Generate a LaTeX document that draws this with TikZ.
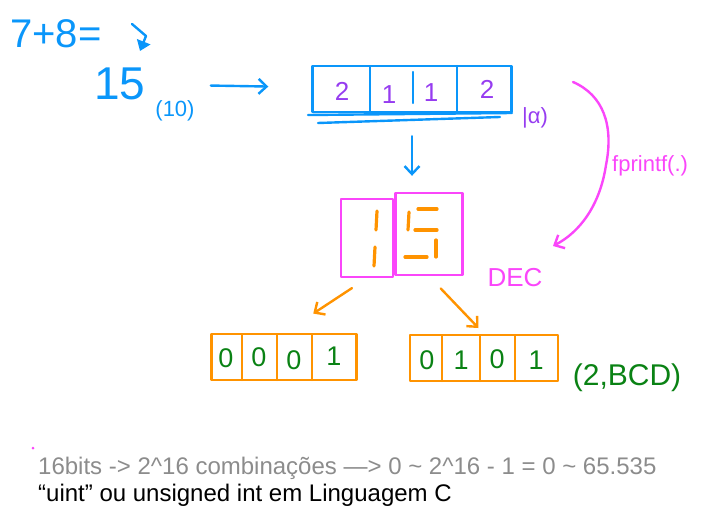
\documentclass[tikz,border=0pt]{standalone}
\usepackage{fontspec}
\setmainfont{Liberation Sans}
\usetikzlibrary{arrows.meta}
\definecolor{penblue}{RGB}{10,150,250}
\definecolor{digpurple}{RGB}{150,60,240}
\definecolor{segpink}{RGB}{250,70,250}
\definecolor{segorange}{RGB}{255,147,0}
\definecolor{bcdgreen}{RGB}{10,130,20}
\definecolor{notegray}{RGB}{140,140,140}

\begin{document}
\begin{tikzpicture}[x=1pt,y=-1pt,line cap=round,line join=round,
  stroke/.style={line width=2.4pt},
  barb/.style={-{Straight Barb[length=8pt,width=15pt]}},
  scribble/.style={inner sep=0pt,font=\fontsize{#1}{#1}\selectfont},
  cellrow/.style={draw,stroke,inner sep=0pt,minimum width=#1},
  segment/.style={draw=segorange,line width=3.2pt}]
\useasboundingbox (0,0) rectangle (719,518);

% sum and result
\node[scribble=40,text=penblue,anchor=west] (sum) at (10,34) {7+8=};
\coordinate (s1) at (132,24);
\coordinate (s2) at (140,51);
\draw[penblue,stroke,-{Triangle[length=10pt,width=14pt]}] (s1) -- (146,36) -- (s2);

\node[scribble=46,text=penblue] (num15) at (120,84) {15};
\node[scribble=22,text=penblue] (base10) at (175,111) {(10)};

% blue row
\node[cellrow=199pt,draw=penblue,minimum height=46pt] (binrow) at (412,89) {};
\draw[penblue,stroke] (370,67) -- (370,112);
\draw[penblue,stroke] (457,66) -- (457,112);
\draw[penblue,stroke] (413,72) -- (413,103);
\draw[penblue,stroke] (308,115) -- (512,113);
\draw[penblue,stroke] (318,123) -- (500,117);

\node[scribble=26,text=digpurple] (c1) at (342,91) {2};
\node[scribble=26,text=digpurple] (c2) at (389,95) {1};
\node[scribble=26,text=digpurple] (c3) at (431,93) {1};
\node[scribble=26,text=digpurple] (c4) at (487,89) {2};
\node[scribble=22,text=digpurple] (base4) at (535,118) {|α)};

\draw[penblue,stroke,barb,shorten <=65pt,shorten >=43pt] (num15) -- (binrow);

% display
\node[cellrow=52pt,draw=segpink,minimum height=78pt] (seg1) at (367,238) {};
\node[cellrow=67pt,draw=segpink,minimum height=82pt] (seg2) at (429,234) {};
\draw[penblue,stroke,barb,shorten <=23pt,shorten >=16pt] (binrow.south) -- (binrow.south |- seg2.north);

\draw[segment] (377,211) -- (376,230);
\draw[segment] (375,247) -- (374,266);
\draw[segment] (418,209) -- (437,209);
\draw[segment] (409,212) -- (408,230);
\draw[segment] (415,230) -- (437,230);
\draw[segment] (436,240) -- (436,257);
\draw[segment] (405,257) -- (427,257);

% fprintf
\coordinate (fp1) at (573,82);
\coordinate (fp2) at (553,246);
\draw[segpink,stroke,barb] (fp1) .. controls (603,95) and (614,125) .. (606,165) .. controls (600,205) and (580,232) .. (fp2);
\node[scribble=22,text=segpink,anchor=base west] (fpf) at (612,172) {fprintf(.)};
\node[scribble=26,text=segpink] (dec) at (515,278) {DEC};

% bcd rows
\node[cellrow=145pt,draw=segorange,minimum height=46pt] (bcdA) at (284,357) {};
\draw[segorange,stroke] (242,335) -- (242,380);
\draw[segorange,stroke] (277,335) -- (277,380);
\draw[segorange,stroke] (312,335) -- (312,380);
\node[cellrow=148pt,draw=segorange,minimum height=46pt] (bcdB) at (484,358) {};
\draw[segorange,stroke] (442,336) -- (442,381);
\draw[segorange,stroke] (480,336) -- (480,381);
\draw[segorange,stroke] (515,336) -- (515,381);

\node[scribble=27,text=bcdgreen] (a1) at (226,358) {0};
\node[scribble=27,text=bcdgreen] (a2) at (259,357) {0};
\node[scribble=27,text=bcdgreen] (a3) at (294,360) {0};
\node[scribble=27,text=bcdgreen] (a4) at (334,356) {1};
\node[scribble=27,text=bcdgreen] (b1) at (427,360) {0};
\node[scribble=27,text=bcdgreen] (b2) at (461,360) {1};
\node[scribble=27,text=bcdgreen] (b3) at (497,359) {0};
\node[scribble=27,text=bcdgreen] (b4) at (536,360) {1};
\node[scribble=30,text=bcdgreen] (bcd) at (627,378) {(2,BCD)};

\draw[segorange,stroke,barb,shorten <=18pt,shorten >=35pt] (seg1.south) -- (bcdA.north);
\draw[segorange,stroke,barb,shorten <=17pt,shorten >=8pt] (seg2.south) -- (bcdB.north);

% notes
\fill[segpink] (33,448) circle (1.5pt);
\node[scribble=24,text=notegray,anchor=base west] (note1) at (38,474) {16bits -> 2\textasciicircum16 combinações —> 0 \textasciitilde{} 2\textasciicircum16 - 1 = 0 \textasciitilde{} 65.535};
\node[scribble=24,anchor=base west] (note2) at (38,501) {“uint” ou unsigned int em Linguagem C};
\end{tikzpicture}
\end{document}
